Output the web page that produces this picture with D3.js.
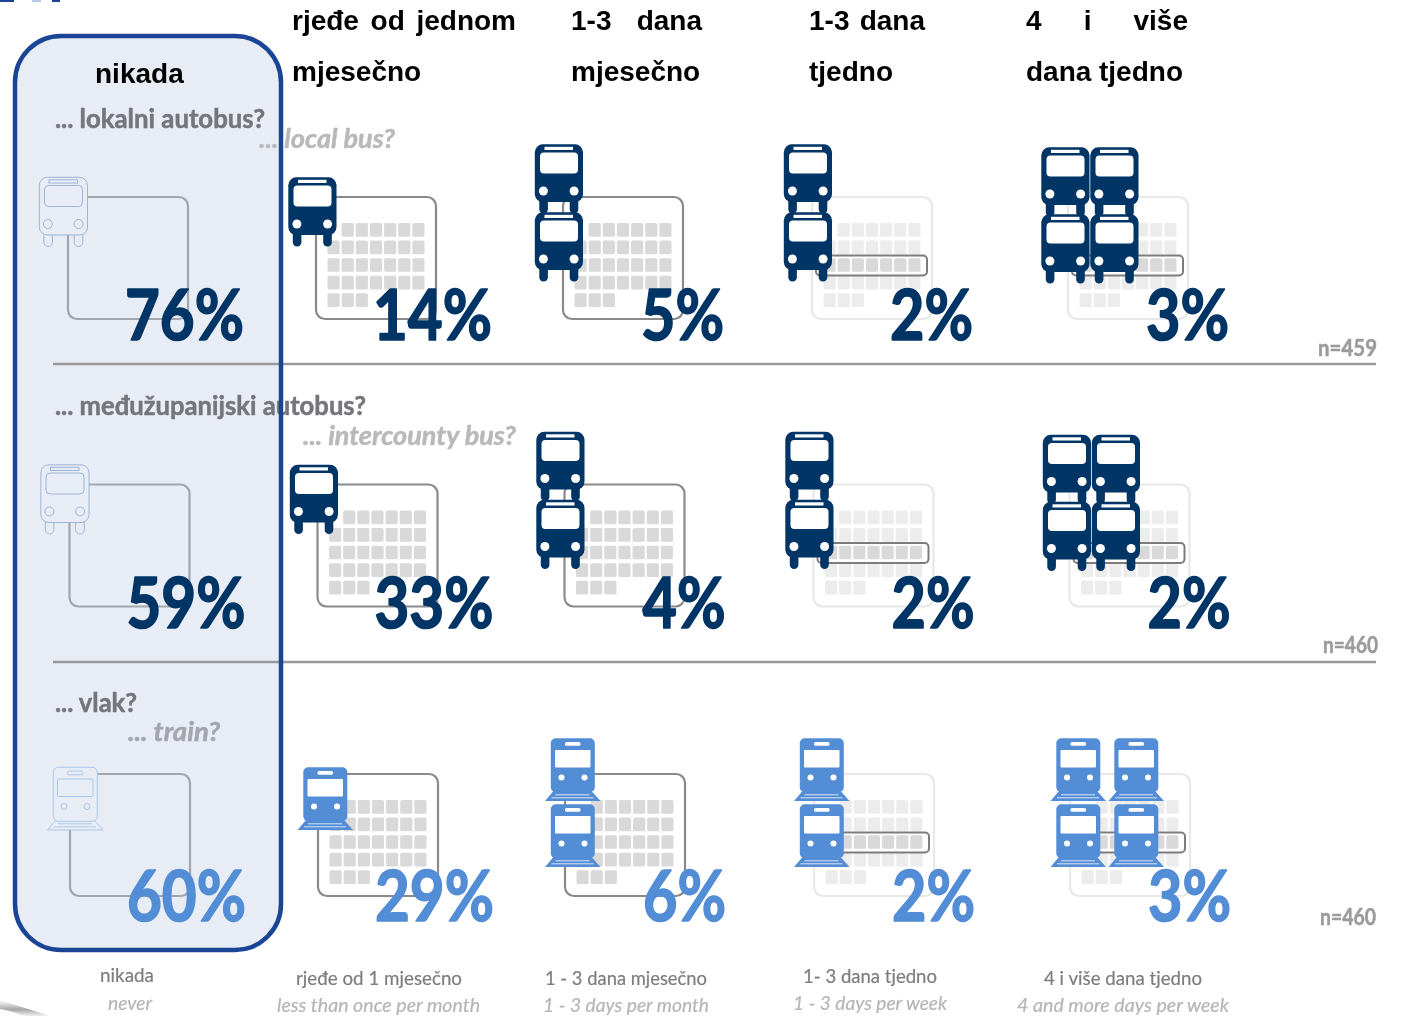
<!DOCTYPE html>
<html><head><meta charset="utf-8">
<script src="https://cdn.jsdelivr.net/npm/d3@7/dist/d3.min.js"></script>
<style>html,body{margin:0;padding:0;background:#fff;overflow:hidden}svg{display:block}</style>
</head><body><div id="chart"></div>
<script>
// ---------- data ----------
const modes = ["bus", "intercity", "train"];
const questionsHr = ["... lokalni autobus?", "... međužupanijski autobus?", "... vlak?"];
const questionsEn = ["... local bus?", "... intercounty bus?", "... train?"];
const frequencies = ["nikada", "rjeđe od 1 mjesečno", "1 - 3 dana mjesečno", "1- 3 dana tjedno", "4 i više dana tjedno"];
const frequenciesEn = ["never", "less than once per month", "1 - 3 days per month", "1 - 3 days per week", "4 and more days per week"];
const headerLine1 = ["nikada", "rjeđe od jednom", "1-3 dana", "1-3 dana", "4 i više"];
const headerLine2 = ["", "mjesečno", "mjesečno", "tjedno", "dana tjedno"];
const localBus = [76, 14, 5, 2, 3];
const intercountyBus = [59, 33, 4, 2, 2];
const train = [60, 29, 6, 2, 3];
const sampleSizes = [459, 460, 460];
const iconCounts = [1, 1, 2, 2, 4];

// ---------- layout scales ----------
const W = 1403, H = 1016;
const NAVY = "#003466", BLUE = "#528dd6", PANEL = "#e8ecf5", PANELSTROKE = "#1a4595";
const x = d3.scaleOrdinal().domain(frequencies).range([68, 316, 563, 812, 1068]);
const rowY = d3.scaleOrdinal().domain(modes).range([197, 484.5, 774]);
const rowX = d3.scaleOrdinal().domain(modes).range([0, 1.5, 2]);
const pctBase = d3.scaleOrdinal().domain(modes).range([340, 628, 921]);
const values = d3.scaleOrdinal().domain(modes).range([localBus, intercountyBus, train]);
const cellCols = d3.scaleBand().domain(d3.range(7)).range([11.5, 108.5]).paddingInner(0.14);
const cellRows = d3.scaleBand().domain(d3.range(5)).range([26, 110]).paddingInner(0.22);
const weekRows = [6, 7, 7, 7, 3];

const svg = d3.select("#chart").append("svg").attr("width", W).attr("height", H).attr("viewBox", [0, 0, W, H]);
const defs = svg.append("defs");
defs.append("filter").attr("id", "soft").attr("x", "-5%").attr("y", "-5%").attr("width", "110%").attr("height", "110%")
  .append("feGaussianBlur").attr("stdDeviation", 0.5);
const swoosh = defs.append("linearGradient").attr("id", "swoosh").attr("x1", 0).attr("y1", 0).attr("x2", 0).attr("y2", 1);
swoosh.append("stop").attr("offset", 0).attr("stop-color", "#fff");
swoosh.append("stop").attr("offset", 0.6).attr("stop-color", "#a8a8a8");
swoosh.append("stop").attr("offset", 1).attr("stop-color", "#f2f2f2");

// page remnants at the picture edges
svg.append("g").selectAll("rect").data([[0, 14, "#1a4595"], [32, 9, "#b9c8e4"], [52, 8, "#1a4595"]]).join("rect")
  .attr("x", d => d[0]).attr("y", 0).attr("width", d => d[1]).attr("height", 2).attr("fill", d => d[2]);
svg.append("path").attr("d", "M0 1000 C16 1005 34 1011 50 1016 L24 1016 C14 1012 6 1010 0 1009Z").attr("fill", "url(#swoosh)");

// panel fill below everything
const panel = { x: 15, y: 36, width: 266, height: 914, rx: 46 };
svg.append("rect").attr("x", panel.x).attr("y", panel.y).attr("width", panel.width).attr("height", panel.height)
  .attr("rx", panel.rx).attr("fill", PANEL);

const art = svg.append("g").attr("filter", "url(#soft)");

function label(g, str, o) {
  const t = g.append("text").attr("x", o.x).attr("y", o.y).text(str)
    .attr("font-family", o.family || "Lato").attr("font-size", o.size)
    .attr("font-weight", o.weight || 400).attr("font-style", o.italic ? "italic" : "normal")
    .attr("fill", o.fill).attr("text-anchor", o.anchor || "start");
  if (o.len) t.attr("textLength", o.len).attr("lengthAdjust", "spacingAndGlyphs");
  if (o.heavy) t.attr("stroke", o.fill).attr("stroke-width", o.heavy).attr("stroke-linejoin", "round");
  return t;
}

// ---------- icons (local coordinates, top-left of vehicle body) ----------
function drawBus(g, outline) {
  const fg = outline ? "none" : NAVY, st = outline ? "#9db5d6" : "none", ho = outline ? "none" : "#fff", hs = outline ? "#9db5d6" : "none";
  const legs = [4.8, 35.2];
  g.selectAll("rect.leg").data(legs).join("rect").attr("class", "leg")
    .attr("x", d => d).attr("y", 52).attr("width", 8.6).attr("height", 17.5).attr("rx", 4.3)
    .attr("fill", outline ? PANEL : fg).attr("stroke", st);
  g.append("rect").attr("x", 0.3).attr("y", 0.3).attr("width", 48.2).attr("height", 57.7).attr("rx", 8)
    .attr("fill", outline ? PANEL : fg).attr("stroke", st);
  g.append("rect").attr("x", 10).attr("y", 2.8).attr("width", 28.5).attr("height", 3.2).attr("fill", ho).attr("stroke", hs);
  g.append("rect").attr("x", 5.5).attr("y", 8.5).attr("width", 38).attr("height", 21).attr("rx", 4).attr("fill", ho).attr("stroke", hs);
  g.selectAll("circle").data([8.9, 39.6]).join("circle").attr("cx", d => d).attr("cy", 47).attr("r", 4.5).attr("fill", ho).attr("stroke", hs);
}
function drawTrain(g, outline) {
  const c = BLUE, ln = "#a9c6ea";
  const fg = outline ? PANEL : c, st = outline ? ln : "none", ho = outline ? PANEL : "#fff", hs = outline ? ln : "none";
  g.append("path").attr("d", "M-5.5 63 L3 53 L41 53 L50 63 Z").attr("fill", fg).attr("stroke", st);
  g.append("rect").attr("x", 0.3).attr("y", 0.3).attr("width", 44).attr("height", 54).attr("rx", 5).attr("fill", fg).attr("stroke", st);
  g.append("rect").attr("x", 14.5).attr("y", 4).attr("width", 15.5).attr("height", 3.8).attr("rx", 1.5).attr("fill", ho).attr("stroke", hs);
  g.append("rect").attr("x", 4.5).attr("y", 12).attr("width", 35.5).attr("height", 17.5).attr("rx", 1).attr("fill", ho).attr("stroke", hs);
  g.selectAll("circle").data([11, 34]).join("circle").attr("cx", d => d).attr("cy", 39.5).attr("r", 3).attr("fill", ho).attr("stroke", hs);
  g.selectAll("path.rail").data(["M5 56.8 H39", "M1 59.8 H43"]).join("path").attr("class", "rail").attr("d", d => d)
    .attr("stroke", outline ? ln : "#e6eefa").attr("stroke-width", 0.9).attr("fill", "none");
}

// ---------- calendar ----------
function drawCalendar(g, colIndex) {
  const faded = colIndex >= 3, empty = colIndex === 0;
  g.append("rect").attr("width", 120).attr("height", 122).attr("rx", 9).attr("fill", "none")
    .attr("stroke", empty ? "#a2a5ac" : faded ? "#e8e8e8" : "#8a8a8a").attr("stroke-width", 2.2);
  if (empty) return;
  weekRows.forEach((n, r) => {
    const from = r === 0 ? 1 : 0;
    g.selectAll("rect.c" + r).data(d3.range(from, r === 0 ? 7 : n)).join("rect").attr("class", "c" + r)
      .attr("x", d => cellCols(d)).attr("y", cellRows(r))
      .attr("width", cellCols.bandwidth()).attr("height", cellRows.bandwidth()).attr("rx", 1.5)
      .attr("fill", faded && r !== 2 ? "#ececec" : "#d9d9d9");
  });
  if (faded) {
    g.append("rect").attr("x", 4).attr("y", 58.5).attr("width", 111).attr("height", 20).attr("rx", 4)
      .attr("fill", "none").attr("stroke", "#7c7c7c").attr("stroke-width", 2);
  }
}

function iconSlots(mode, count) {
  const isTrain = mode === "train";
  if (count === 1) return [[isTrain ? -15 : -28, isTrain ? -7 : -20]];
  if (count === 2) return isTrain ? [[-14.5, -36], [-14.5, 30]] : [[-28.5, -53], [-28.5, 15]];
  return isTrain
    ? [[-14, -36], [44, -36], [-14, 30], [44, 30]]
    : [[-27, -50], [22, -50], [-27, 17], [22, 17]];
}

// ---------- rows ----------
modes.forEach((mode, ri) => {
  const isTrain = mode === "train";
  const colour = ri === 0 || ri === 1 ? NAVY : BLUE;
  frequencies.forEach((f, ci) => {
    const g = art.append("g").attr("transform", `translate(${x(f) + rowX(mode)},${rowY(mode)})`);
    drawCalendar(g.append("g"), ci);
    iconSlots(mode, iconCounts[ci]).forEach(([dx, dy]) => {
      const ig = g.append("g").attr("transform", `translate(${ci === 0 ? dx - (isTrain ? 2 : 1) : dx},${ci === 0 && !isTrain ? -20 : dy})`);
      (isTrain ? drawTrain : drawBus)(ig, ci === 0);
    });
    const v = values(mode)[ci];
    const str = v + "%";
    label(art, str, {
      x: x(f) + rowX(mode) + (ci < 2 ? 176 : 161), y: pctBase(mode), size: 70, weight: 700, fill: colour, heavy: 1.6,
      anchor: "end", len: String(v).length === 2 ? 119 : 83
    });
  });
});

// question labels
const qHr = [[55, 128, 210], [55, 415, 311], [55, 712, 82]];
const qEn = [[259, 148, 136], [303, 445, 213], [128, 741, 92]];
modes.forEach((m, i) => {
  label(art, questionsHr[i], { x: qHr[i][0], y: qHr[i][1], size: 26, weight: 700, fill: "#74747c", len: qHr[i][2], heavy: 0.5 });
  label(art, questionsEn[i], { x: qEn[i][0], y: qEn[i][1], size: 26, weight: 700, italic: true, fill: i === 2 ? "#a4a6ae" : "#b9b9bb", len: qEn[i][2], heavy: 0.5 });
});

// separators
svg.selectAll("line.sep").data([364, 662]).join("line").attr("class", "sep")
  .attr("x1", 53).attr("x2", 1376).attr("y1", d => d).attr("y2", d => d)
  .attr("stroke", "#9a9a9a").attr("stroke-width", 2.4);

// n labels
const nPos = [[1318, 356, 59], [1323, 653, 55], [1320, 925, 56]];
sampleSizes.forEach((n, i) => label(art, "n=" + n, { x: nPos[i][0], y: nPos[i][1], size: 22, weight: 700, fill: "#9b9b9b", len: nPos[i][2], heavy: 0.5 }));

// bottom labels
const botHr = [[100, 982, 54], [296, 985, 166], [545, 985, 162], [803, 983, 134], [1044, 985, 158]];
const botEn = [[108, 1010, 44], [277, 1012, 203], [543, 1012, 166], [793, 1010, 154], [1017, 1012, 212]];
frequencies.forEach((f, i) => {
  label(art, f, { x: botHr[i][0], y: botHr[i][1], size: 19.5, fill: "#7d7d7d", len: botHr[i][2], heavy: 0.2 });
  label(art, frequenciesEn[i], { x: botEn[i][0], y: botEn[i][1], size: 19.5, italic: true, fill: "#b5b5b5", len: botEn[i][2], heavy: 0.2 });
});

// panel outline above the art
svg.append("rect").attr("x", panel.x).attr("y", panel.y).attr("width", panel.width).attr("height", panel.height)
  .attr("rx", panel.rx).attr("fill", "none").attr("stroke", PANELSTROKE).attr("stroke-width", 4.5);

// column headings (crisp, fitted to the original's word gaps)
function fitted(str, xPos, y, target) {
  const t = svg.append("text").attr("x", xPos).attr("y", y).text(str)
    .attr("font-family", "'Liberation Sans', Arial, sans-serif").attr("font-size", 28).attr("font-weight", 700).attr("fill", "#000");
  const gaps = str.split(" ").length - 1;
  if (gaps) {
    const extra = (target - t.node().getComputedTextLength()) / gaps;
    t.attr("word-spacing", extra.toFixed(2));
  }
}
fitted(headerLine1[0], 95, 83, 89);
[[292, 224], [571, 131], [809, 116], [1026, 162]].forEach(([px, w], i) => fitted(headerLine1[i + 1], px, 30, w));
[[292, 129], [571, 130], [809, 84], [1026, 157]].forEach(([px, w], i) => fitted(headerLine2[i + 1], px, 81, w));
</script></body></html>
